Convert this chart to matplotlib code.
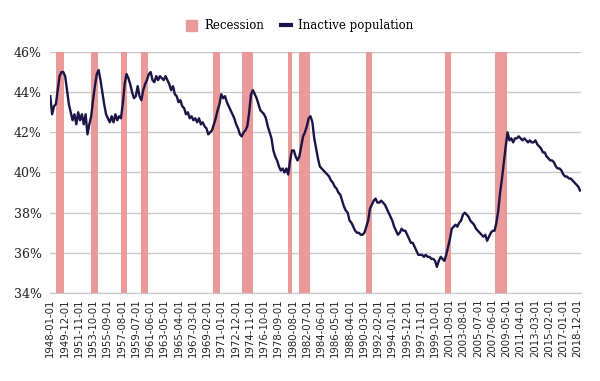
import numpy as np
import matplotlib.pyplot as plt
from matplotlib.patches import Patch
from matplotlib.lines import Line2D

# monthly category axis, 1948-01 .. 2019-05
months = ['%d-%02d-01' % (y, m) for y in range(1948, 2020) for m in range(1, 13)][:857]

# inactive population (%), read quarterly (Jan, Apr, Jul, Oct) off the chart
inactive = [
    43.8, 42.9, 43.3, 43.4,  # 1948
    44.1, 44.8, 45.0, 45.0,
    44.8, 44.1, 43.4, 43.0,  # 1950
    42.6, 42.9, 42.4, 43.0,
    42.6, 42.9, 42.4, 42.9,
    41.9, 42.4, 42.8, 43.6,
    44.3, 44.9, 45.1, 44.6,
    44.0, 43.4, 42.9, 42.7,  # 1955
    42.5, 42.8, 42.5, 42.9,
    42.6, 42.8, 42.7, 43.4,
    44.4, 44.9, 44.7, 44.4,
    44.0, 43.7, 43.8, 44.3,
    43.8, 43.6, 44.1, 44.4,  # 1960
    44.6, 44.9, 45.0, 44.6,
    44.5, 44.8, 44.6, 44.8,
    44.7, 44.6, 44.8, 44.6,
    44.4, 44.1, 44.3, 43.9,
    43.8, 43.5, 43.6, 43.3,  # 1965
    43.2, 42.9, 43.0, 42.7,
    42.8, 42.6, 42.7, 42.5,
    42.7, 42.4, 42.5, 42.3,
    42.2, 41.9, 42.0, 42.1,
    42.4, 42.7, 43.1, 43.4,  # 1970
    43.9, 43.7, 43.8, 43.5,
    43.3, 43.1, 42.9, 42.7,
    42.4, 42.2, 41.9, 41.8,
    42.0, 42.1, 42.3, 43.0,
    43.9, 44.1, 43.9, 43.7,  # 1975
    43.4, 43.1, 43.0, 42.9,
    42.7, 42.3, 42.0, 41.7,
    41.1, 40.8, 40.6, 40.3,
    40.1, 40.2, 40.0, 40.2,
    39.9, 40.6, 41.1, 41.1,  # 1980
    40.8, 40.6, 40.8, 41.3,
    41.8, 42.0, 42.3, 42.7,
    42.8, 42.5, 41.7, 41.2,
    40.7, 40.3, 40.2, 40.1,
    40.0, 39.9, 39.8, 39.6,  # 1985
    39.5, 39.3, 39.2, 39.0,
    38.9, 38.6, 38.3, 38.1,
    38.0, 37.6, 37.5, 37.3,
    37.1, 37.0, 37.0, 36.9,
    36.9, 37.0, 37.3, 37.6,  # 1990
    38.2, 38.4, 38.6, 38.7,
    38.5, 38.5, 38.6, 38.5,
    38.4, 38.2, 38.0, 37.8,
    37.6, 37.3, 37.1, 36.9,
    37.0, 37.2, 37.1, 37.1,  # 1995
    36.9, 36.7, 36.5, 36.5,
    36.3, 36.1, 35.9, 35.9,
    35.9, 35.8, 35.9, 35.8,
    35.8, 35.7, 35.7, 35.6,
    35.3, 35.6, 35.8, 35.7,  # 2000
    35.6, 35.9, 36.3, 36.7,
    37.2, 37.3, 37.4, 37.3,
    37.5, 37.6, 37.9, 38.0,
    37.9, 37.8, 37.6, 37.5,
    37.4, 37.2, 37.1, 37.0,  # 2005
    36.9, 36.8, 36.9, 36.6,
    36.8, 37.0, 37.1, 37.1,
    37.5, 38.1, 39.0, 39.7,
    40.5, 41.3, 42.0, 41.6,
    41.7, 41.5, 41.7, 41.7,  # 2010
    41.8, 41.7, 41.6, 41.7,
    41.6, 41.5, 41.6, 41.5,
    41.5, 41.6, 41.4, 41.3,
    41.2, 41.0, 41.0, 40.8,
    40.7, 40.6, 40.6, 40.5,  # 2015
    40.3, 40.2, 40.2, 40.1,
    39.9, 39.8, 39.8, 39.7,
    39.7, 39.6, 39.5, 39.4,
    39.3, 39.1,              # 2019
]
inactive_months = months[::3][:len(inactive)]

# NBER recessions (first month, last month)
recessions = [
    ('1948-11-01', '1949-10-01'), ('1953-07-01', '1954-05-01'),
    ('1957-08-01', '1958-04-01'), ('1960-04-01', '1961-02-01'),
    ('1969-12-01', '1970-11-01'), ('1973-11-01', '1975-03-01'),
    ('1980-01-01', '1980-07-01'), ('1981-07-01', '1982-11-01'),
    ('1990-07-01', '1991-03-01'), ('2001-03-01', '2001-11-01'),
    ('2007-12-01', '2009-06-01'),
]

pink = '#E99A99'
navy = '#1C1446'

fig = plt.figure(figsize=(6, 3.81), dpi=100)
ax = fig.add_axes([0.0833, 0.231, 0.885, 0.6325])

for s, e in recessions:
    ax.axvspan(months.index(s) - 0.5, months.index(e) + 0.5, color=pink, lw=0, zorder=1)

xi = [months.index(m) for m in inactive_months]
ax.plot(xi, inactive, color=navy, lw=1.7, zorder=3)

ax.set_ylim(34, 46)
ax.set_xlim(-0.5, len(months) - 0.5)
yt = np.arange(34, 47, 2)
ax.set_yticks(yt)
ax.set_yticklabels(['%d%%' % v for v in yt], family='DejaVu Serif', fontsize=9, color='#222222')
xt = list(range(0, len(months), 23))
ax.set_xticks(xt)
ax.set_xticklabels([months[i] for i in xt], rotation=90, fontsize=7.3, color='#222222')
ax.tick_params(length=0, pad=4)
ax.tick_params(axis='y', pad=6)

ax.grid(axis='y', color='#C8C8C8', lw=1, zorder=0)
ax.set_axisbelow(True)
for sp in ['top', 'right', 'left']:
    ax.spines[sp].set_visible(False)
ax.spines['bottom'].set_color('#C8C8C8')

handles = [Patch(color=pink), Line2D([0], [0], color=navy, lw=3)]
fig.legend(handles, ['Recession', 'Inactive population'], loc='center', bbox_to_anchor=(0.5, 0.932),
           ncol=2, frameon=False, prop={'family': 'DejaVu Serif', 'size': 8.5},
           handlelength=0.9, handleheight=1.0, columnspacing=1.4, handletextpad=0.6)

plt.savefig('out.png', dpi=100)
